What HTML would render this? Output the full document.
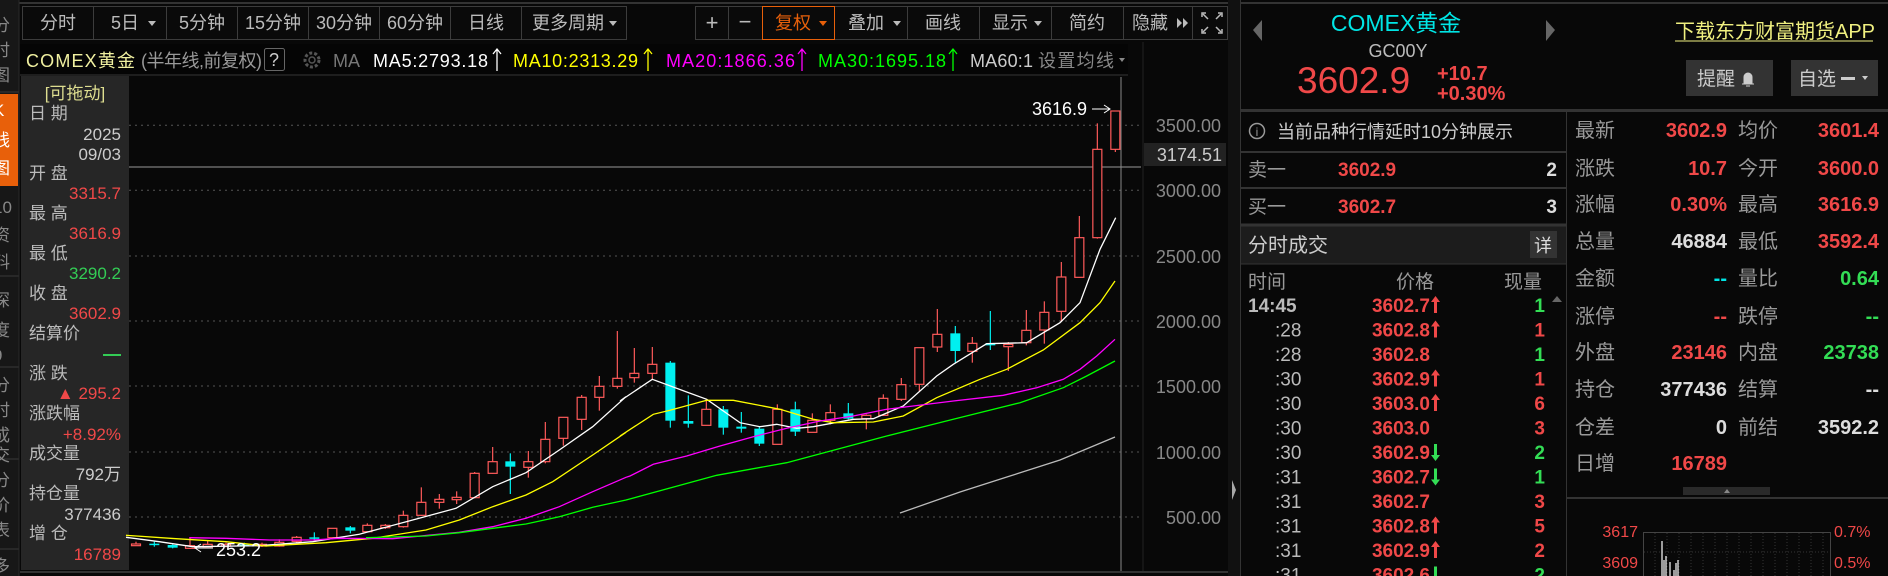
<!DOCTYPE html>
<html><head><meta charset="utf-8">
<style>
html,body{margin:0;padding:0;background:#080808;width:1888px;height:576px;overflow:hidden}
svg{display:block}
text{font-family:"Liberation Sans","Noto Sans CJK SC",sans-serif}
</style></head>
<body>
<svg id="s" width="1888" height="576" viewBox="0 0 1888 576" xmlns="http://www.w3.org/2000/svg">
<rect width="1888" height="576" fill="#080808"/>
<line x1="0" y1="3" x2="1888" y2="3" stroke="#333" stroke-width="2"/>
<rect x="0" y="0" width="19" height="576" fill="#171717"/>
<rect x="0" y="94" width="18" height="92" fill="#e8600a"/>
<g stroke="#3a3a3a"><line x1="0" y1="92" x2="19" y2="92"/><line x1="0" y1="276" x2="19" y2="276"/><line x1="0" y1="367" x2="19" y2="367"/><line x1="0" y1="459" x2="19" y2="459"/><line x1="0" y1="549" x2="19" y2="549"/></g>
<line x1="19" y1="0" x2="19" y2="576" stroke="#2a2a2a"/>
<g font-size="17" fill="#888">
<text x="-7" y="31">分</text><text x="-7" y="56">时</text><text x="-7" y="81">图</text>
<text x="-7" y="116" fill="#fff">K</text><text x="-7" y="146" fill="#fff">线</text><text x="-7" y="174" fill="#fff">图</text>
<text x="-7" y="213">10</text><text x="-7" y="241">资</text><text x="-7" y="268">料</text>
<text x="-7" y="306">深</text><text x="-7" y="336">度</text><text x="-7" y="361">9</text>
<text x="-7" y="391">分</text><text x="-7" y="416">时</text><text x="-7" y="441">成</text><text x="-7" y="461">交</text>
<text x="-7" y="486">分</text><text x="-7" y="511">价</text><text x="-7" y="536">表</text>
<text x="-7" y="572">多</text>
</g>
<g stroke="#3c3c3c" fill="#0a0a0a">
<rect x="22.5" y="6.5" width="604" height="33"/>
<rect x="695.5" y="6.5" width="532" height="33"/>
</g>
<g stroke="#3c3c3c">
<line x1="93.5" y1="6" x2="93.5" y2="40"/><line x1="166.5" y1="6" x2="166.5" y2="40"/><line x1="237.5" y1="6" x2="237.5" y2="40"/><line x1="308.5" y1="6" x2="308.5" y2="40"/><line x1="379.5" y1="6" x2="379.5" y2="40"/><line x1="450.5" y1="6" x2="450.5" y2="40"/><line x1="521.5" y1="6" x2="521.5" y2="40"/>
<line x1="728.5" y1="6" x2="728.5" y2="40"/><line x1="907.5" y1="6" x2="907.5" y2="40"/><line x1="979.5" y1="6" x2="979.5" y2="40"/><line x1="1051.5" y1="6" x2="1051.5" y2="40"/><line x1="1123.5" y1="6" x2="1123.5" y2="40"/><line x1="1192.5" y1="6" x2="1192.5" y2="40"/>
</g>
<rect x="762.5" y="6.5" width="72" height="33" fill="#0a0a0a" stroke="#e8600a"/>
<g font-size="18" fill="#bbb" text-anchor="middle">
<text x="58" y="29">分时</text><text x="125" y="29">5日</text><text x="202" y="29">5分钟</text><text x="273" y="29">15分钟</text><text x="344" y="29">30分钟</text><text x="415" y="29">60分钟</text><text x="486" y="29">日线</text><text x="568" y="29">更多周期</text>
<text x="712" y="30" font-size="22">+</text><text x="745" y="29" font-size="22">−</text>
<text x="793" y="29" fill="#e8600a">复权</text><text x="866" y="29">叠加</text><text x="943" y="29">画线</text><text x="1010" y="29">显示</text><text x="1087" y="29">简约</text><text x="1150" y="29">隐藏</text>
</g>
<g fill="#bbb"><path d="M148 21l8 0-4 5z"/><path d="M609 21l8 0-4 5z"/><path d="M819 21l8 0-4 5z" fill="#e8600a"/><path d="M893 21l8 0-4 5z"/><path d="M1034 21l8 0-4 5z"/><path d="M1177 18l5 5-5 5z"/><path d="M1183 18l5 5-5 5z"/></g>
<g stroke="#bbb" fill="none" stroke-width="1.5"><path d="M1202 17v-4h4M1218 13h4v4M1202 29v4h4M1218 33h4v-4"/><path d="M1203 14l5 5M1221 14l-5 5M1203 32l5-5M1221 32l-5-5"/></g>
<rect x="20" y="44" width="1108" height="30" fill="#050505"/>
<line x1="20" y1="75" x2="1128" y2="75" stroke="#333"/>
<g font-size="18">
<text x="26" y="67" fill="#f0f0a0" textLength="109">COMEX黄金</text>
<text x="141" y="67" fill="#999" textLength="121">(半年线,前复权)</text>
<rect x="264.5" y="48.5" width="20" height="22" fill="none" stroke="#666" rx="2"/>
<text x="274" y="66" fill="#ccc" text-anchor="middle">?</text>
<circle cx="312" cy="60" r="7" fill="none" stroke="#555" stroke-width="3" stroke-dasharray="3 2"/>
<circle cx="312" cy="60" r="3" fill="none" stroke="#555" stroke-width="1.5"/>
<text x="333" y="67" fill="#777">MA</text>
<text x="373" y="67" fill="#fff" textLength="115">MA5:2793.18</text>
<text x="513" y="67" fill="#ffff00" textLength="125">MA10:2313.29</text>
<text x="666" y="67" fill="#ff00ff" textLength="129">MA20:1866.36</text>
<text x="818" y="67" fill="#00ff00" textLength="128">MA30:1695.18</text>
<text x="970" y="67" fill="#ccc" textLength="63">MA60:1</text>
<text x="1038" y="67" fill="#888" textLength="76">设置均线</text>
</g>
<g stroke-width="1.3" fill="none">
<path d="M497 49v22M493 54l4-5 4 5" stroke="#fff"/>
<path d="M648 49v22M644 54l4-5 4 5" stroke="#ffff00"/>
<path d="M802 49v22M798 54l4-5 4 5" stroke="#ff00ff"/>
<path d="M953 49v22M949 54l4-5 4 5" stroke="#00ff00"/>
</g>
<path d="M1119 58l6 0-3 4z" fill="#888"/>
<rect x="21" y="76" width="108" height="494" fill="#262626"/>
<g font-size="17" fill="#bbb">
<text x="75" y="99" fill="#dede90" text-anchor="middle">[可拖动]</text>
<text x="29" y="119">日 期</text>
<text x="29" y="179">开 盘</text>
<text x="29" y="219">最 高</text>
<text x="29" y="259">最 低</text>
<text x="29" y="299">收 盘</text>
<text x="29" y="339">结算价</text>
<text x="29" y="379">涨 跌</text>
<text x="29" y="419">涨跌幅</text>
<text x="29" y="459">成交量</text>
<text x="29" y="499">持仓量</text>
<text x="29" y="539">增 仓</text>
</g>
<g font-size="17" text-anchor="end">
<text x="121" y="140" fill="#ccc">2025</text>
<text x="121" y="160" fill="#ccc">09/03</text>
<text x="121" y="199" fill="#f04848">3315.7</text>
<text x="121" y="239" fill="#f04848">3616.9</text>
<text x="121" y="279" fill="#33cc55">3290.2</text>
<text x="121" y="319" fill="#f04848">3602.9</text>
<text x="121" y="399" fill="#f04848">▲ 295.2</text>
<text x="121" y="440" fill="#f04848">+8.92%</text>
<text x="121" y="480" fill="#ccc">792万</text>
<text x="121" y="520" fill="#ccc">377436</text>
<text x="121" y="560" fill="#f04848">16789</text>
</g>
<rect x="103" y="354" width="18" height="2" fill="#33cc55"/>
<g id="grid" stroke="#555" stroke-dasharray="2 4"></g>
<line x1="129" y1="167" x2="1141" y2="167" stroke="#999"/>
<line x1="1121" y1="77" x2="1121" y2="572" stroke="#888"/>
<line x1="1143" y1="42" x2="1143" y2="572" stroke="#222"/>
<g id="candles"></g>
<g id="mas" fill="none" stroke-width="1.3"></g>
<g font-size="18" fill="#888" text-anchor="end">
<text x="1221" y="132">3500.00</text><text x="1221" y="197">3000.00</text><text x="1221" y="263">2500.00</text><text x="1221" y="328">2000.00</text><text x="1221" y="393">1500.00</text><text x="1221" y="459">1000.00</text><text x="1221" y="524">500.00</text>
</g>
<rect x="1144" y="143" width="82" height="23" fill="#222"/>
<text x="1222" y="161" font-size="18" fill="#ccc" text-anchor="end">3174.51</text>
<text x="1087" y="115" font-size="18" fill="#fff" text-anchor="end">3616.9</text>
<path d="M1092 109h18M1104 105l6 4-6 4" stroke="#fff" fill="none"/>
<text x="216" y="556" font-size="18" fill="#fff">253.2</text>
<path d="M195 548h18M201 544l-6 4 6 4" stroke="#fff" fill="none"/>
<line x1="20" y1="572" x2="1228" y2="572" stroke="#333" stroke-width="2"/>
<rect x="1228" y="0" width="12" height="576" fill="#111"/>
<line x1="1240.5" y1="0" x2="1240.5" y2="576" stroke="#333"/>
<path d="M1232 480l4 10-4 10z" fill="#aaa"/>
<text x="1396" y="31" font-size="23" fill="#00e5e5" text-anchor="middle">COMEX黄金</text>
<path d="M1262 20l-9 10 9 11z" fill="#666"/><path d="M1546 20l9 10-9 11z" fill="#666"/>
<text x="1398" y="57" font-size="18" fill="#bbb" text-anchor="middle">GC00Y</text>
<text x="1297" y="93" font-size="37" fill="#f04848">3602.9</text>
<text x="1437" y="80" font-size="20" font-weight="bold" fill="#f04848">+10.7</text>
<text x="1437" y="100" font-size="20" font-weight="bold" fill="#f04848">+0.30%</text>
<text x="1675" y="38" font-size="20" fill="#f0f080">下载东方财富期货APP</text>
<line x1="1675" y1="41" x2="1873" y2="41" stroke="#f0f080"/>
<rect x="1686" y="60" width="87" height="36" fill="#333"/>
<text x="1697" y="85" font-size="19" fill="#ccc">提醒</text>
<path d="M1742 84h12M1744 84v-7a4 4 0 0 1 8 0v7M1746 86h4" stroke="#ccc" fill="#ccc"/>
<rect x="1791" y="60" width="87" height="36" fill="#333"/>
<text x="1798" y="85" font-size="19" fill="#ccc">自选</text>
<rect x="1841" y="77" width="14" height="3" fill="#ccc"/><path d="M1862 76l6 0-3 4z" fill="#ccc"/>
<rect x="1241" y="109" width="647" height="3" fill="#333"/>
<circle cx="1257" cy="131" r="7.5" fill="none" stroke="#999" stroke-width="1.5"/>
<text x="1257" y="136" font-size="12" fill="#999" text-anchor="middle">i</text>
<text x="1277" y="138" font-size="18" fill="#ccc">当前品种行情延时10分钟展示</text>
<line x1="1241" y1="152" x2="1566" y2="152" stroke="#333" stroke-width="2"/>
<text x="1248" y="176" font-size="19" fill="#999">卖一</text>
<text x="1338" y="176" font-size="19" font-weight="bold" fill="#f04848">3602.9</text>
<text x="1557" y="176" font-size="19" font-weight="bold" fill="#ddd" text-anchor="end">2</text>
<line x1="1241" y1="188" x2="1566" y2="188" stroke="#333" stroke-width="2"/>
<text x="1248" y="213" font-size="19" fill="#999">买一</text>
<text x="1338" y="213" font-size="19" font-weight="bold" fill="#f04848">3602.7</text>
<text x="1557" y="213" font-size="19" font-weight="bold" fill="#ddd" text-anchor="end">3</text>
<rect x="1241" y="225" width="325" height="39" fill="#1c1c1c"/>
<line x1="1241" y1="225" x2="1566" y2="225" stroke="#333" stroke-width="3"/>
<text x="1248" y="252" font-size="20" fill="#ccc">分时成交</text>
<rect x="1530" y="231" width="27" height="27" fill="#333"/>
<text x="1543" y="252" font-size="18" fill="#ddd" text-anchor="middle">详</text>
<line x1="1241" y1="264" x2="1566" y2="264" stroke="#333"/>
<g font-size="19" fill="#999"><text x="1248" y="288">时间</text><text x="1396" y="288">价格</text><text x="1504" y="288">现量</text></g>
<path d="M1552 302l5-6 5 6z" fill="#666"/>
<g id="trades" font-size="19" font-weight="bold"></g>
<line x1="1566.5" y1="112" x2="1566.5" y2="576" stroke="#333"/>
<g id="stats" font-size="20"></g>
<rect x="1683" y="487" width="87" height="8" fill="#2a2a2a"/>
<path d="M1724 493l3-4 3 4z" fill="#888"/>
<line x1="1567" y1="498" x2="1888" y2="498" stroke="#333" stroke-width="2"/>
<g font-size="16" fill="#f04848"><text x="1638" y="537" text-anchor="end">3617</text><text x="1638" y="568" text-anchor="end">3609</text><text x="1834" y="537">0.7%</text><text x="1834" y="568">0.5%</text></g>
<rect x="1643.5" y="532.5" width="187" height="50" fill="none" stroke="#444"/>
<g id="mini" stroke="#333" stroke-dasharray="1 2"></g>
<path d="M1662 541v35M1664 560v16M1666 556v20M1670 562v14M1674 570v6M1676 563v13M1678 560v16" stroke="#fff" stroke-width="1.2"/>
</svg>
<script>
var NS="http://www.w3.org/2000/svg";
function el(p,t,a,txt){var e=document.createElementNS(NS,t);for(var k in a)e.setAttribute(k,a[k]);if(txt!=null)e.textContent=txt;p.appendChild(e);return e;}
var g=document.getElementById('grid');
[125.3,190.3,256,321,386,452,517].forEach(function(y){el(g,'line',{x1:129,y1:y,x2:1143,y2:y});});
var mini=document.getElementById('mini');
for(var x=1655;x<1830;x+=12)el(mini,'line',{x1:x,y1:533,x2:x,y2:576});
el(mini,'line',{x1:1644,y1:552,x2:1830,y2:552});
var R='#ff5a5a',C='#00f0f0';
var z3=[[30,732,737,725,737,R],[85,731,733,725,740,C],[140,735,743,733,745,C],[192,737,745,712,747,R],[245,733,740,720,740,R],
[300,733,738,728,742,R],[355,734,737,728,740,C],[408,733,738,728,741,R],
[460,727,738,718,740,R],[512,712,724,708,728,R],[565,712,714,697,722,C],[619,685,713,685,713,R],[673,682,692,678,700,C],[724,676,695,670,697,R],[778,676,683,672,687,R],[832,646,680,632,683,R],[886,607,646,562,648,R],[940,598,607,582,626,R],[992,592,599,574,612,R],[1046,520,593,516,595,R],[1100,485,520,441,521,R],[1153,484,500,460,582,C],[1207,485,502,453,533,R],[1258,418,485,366,490,R],[1312,352,415,352,437,R],[1367,292,358,285,390,R],[1420,259,292,228,332,R],[1474,235,259,93,266,R]];
var z4=[[43,892,905,816,920,R],[97,865,892,813,910,R],[151,860,1034,855,1055,C],[205,1035,1043,958,1055,C],[259,1000,1048,970,1048,R],[310,1000,1055,990,1076,C],[364,1052,1058,1008,1070,C],[418,1058,1103,1050,1110,C],[472,1000,1105,985,1105,R],[526,1000,1067,977,1080,C],[577,1033,1069,1012,1069,R],[631,1010,1033,985,1045,R],[685,1012,1028,981,1030,C],[739,1018,1028,1015,1060,R],[790,967,1018,955,1020,R],[844,926,970,906,975,R],[898,815,925,815,945,R],[952,775,813,699,828,R],[1006,772,825,750,860,C],[1057,802,826,783,860,R],[1111,802,808,705,822,C],[1165,805,812,798,885,R],[1219,763,800,702,808,R],[1273,709,762,676,803,R],[1324,603,706,558,738,R],[1378,485,604,420,604,R],[1432,220,485,142,488,R],[1486,105,220,105,228,R]];
var cg=document.getElementById('candles');
function cand(x,bt,bb,wt,wb,c){
 el(cg,'line',{x1:x,y1:wt,x2:x,y2:wb,stroke:c,'stroke-width':1.2});
 var h=Math.max(bb-bt,1.5);
 if(c===R) el(cg,'rect',{x:x-4.5,y:bt,width:9,height:h,fill:'#080808',stroke:c,'stroke-width':1.2});
 else el(cg,'rect',{x:x-5,y:bt,width:10,height:h,fill:c});
}
z3.forEach(function(d){cand(126+d[0]/3,300+d[1]/3,300+d[2]/3,300+d[3]/3,300+d[4]/3,d[5]);});
z4.forEach(function(d){cand(620+d[0]/3,76+d[1]/3,76+d[2]/3,76+d[3]/3,76+d[4]/3,d[5]);});
var mg=document.getElementById('mas');
function line(p3,p4,col){var pts=[];p3.forEach(function(p){pts.push((126+p[0]/3).toFixed(1)+','+(300+p[1]/3).toFixed(1));});p4.forEach(function(p){pts.push((620+p[0]/3).toFixed(1)+','+(76+p[1]/3).toFixed(1));});el(mg,'polyline',{points:pts.join(' '),stroke:col});}
line([[0,712],[100,725],[200,740],[400,737],[560,725],[700,703],[860,660],[990,625],[1100,560],[1200,518],[1300,450],[1400,380],[1500,290]],
 [[0,975],[97,910],[200,948],[260,970],[360,1040],[420,1052],[470,1045],[530,1057],[580,1052],[700,1030],[760,1028],[850,990],[950,900],[1000,865],[1100,803],[1220,800],[1320,740],[1380,680],[1440,520],[1487,425]],'#fff');
line([[0,706],[150,716],[300,725],[420,738],[600,728],[740,715],[900,690],[1000,660],[1100,620],[1200,585],[1280,545],[1400,465],[1500,397]],
 [[0,1080],[100,1015],[150,1003],[260,973],[340,973],[480,1000],[580,1030],[640,1040],[760,1038],[850,1020],[950,965],[1080,910],[1160,880],[1270,822],[1380,740],[1440,680],[1485,615]],'#ffff00');
line([[190,713],[300,715],[430,720],[560,720],[640,715],[800,716],[1000,697],[1100,680],[1200,655],[1300,620],[1400,575],[1500,532]],
 [[30,1200],[100,1165],[200,1140],[300,1110],[400,1082],[500,1057],[600,1035],[700,1020],[800,1000],[1000,975],[1150,958],[1250,935],[1330,910],[1380,880],[1430,840],[1485,790]],'#ff00ff');
line([[720,713],[900,708],[1000,698],[1100,685],[1200,672],[1300,650],[1400,622],[1500,600]],
 [[290,1198],[500,1160],[800,1080],[1000,1030],[1200,980],[1330,935],[1400,900],[1485,855]],'#00ff00');
el(mg,'polyline',{points:'900,513 960,492 1010,476 1060,460 1115,437',stroke:'#bbb'});
var tg=document.getElementById('trades');
var RR='#f04848',GG='#33dd55';
var tr=[['14:45','3602.7','u','1',GG],[':28','3602.8','u','1',RR],[':28','3602.8','','1',GG],[':30','3602.9','u','1',RR],[':30','3603.0','u','6',RR],[':30','3603.0','','3',RR],[':30','3602.9','d','2',GG],[':31','3602.7','d','1',GG],[':31','3602.7','','3',RR],[':31','3602.8','u','5',RR],[':31','3602.9','u','2',RR],[':31','3602.6','d','2',GG]];
tr.forEach(function(t,i){var y=312+i*24.5;
 el(tg,'text',{x:t[0].length>3?1248:1275,y:y,fill:'#bbb','font-weight':t[0].length>3?'bold':'normal'},t[0]);
 el(tg,'text',{x:1372,y:y,fill:RR,textLength:58},t[1]);
 if(t[2]=='u'){el(tg,'rect',{x:1434,y:y-12,width:3,height:13,fill:RR});el(tg,'path',{d:'M1431 '+(y-10)+'l4.5-6 4.5 6z',fill:RR});}
 if(t[2]=='d'){el(tg,'rect',{x:1434,y:y-15,width:3,height:13,fill:GG});el(tg,'path',{d:'M1431 '+(y-4)+'l4.5 6 4.5-6z',fill:GG});}
 el(tg,'text',{x:1545,y:y,fill:t[4],'text-anchor':'end'},t[3]);
});
var sg=document.getElementById('stats');
var W='#ddd',Cy='#00e5e5';
var st=[[130,'最新','3602.9',RR,'均价','3601.4',RR],[168,'涨跌','10.7',RR,'今开','3600.0',RR],[204,'涨幅','0.30%',RR,'最高','3616.9',RR],[241,'总量','46884',W,'最低','3592.4',RR],[278,'金额','--',Cy,'量比','0.64',GG],[316,'涨停','--',RR,'跌停','--',GG],[352,'外盘','23146',RR,'内盘','23738',GG],[389,'持仓','377436',W,'结算','--',W],[427,'仓差','0',W,'前结','3592.2',W],[463,'日增','16789',RR,'','','']];
st.forEach(function(s){var y=s[0]+7;
 el(sg,'text',{x:1575,y:y,fill:'#999'},s[1]);
 el(sg,'text',{x:1727,y:y,fill:s[3],'text-anchor':'end','font-weight':'bold'},s[2]);
 if(s[4]){el(sg,'text',{x:1738,y:y,fill:'#999'},s[4]);
 el(sg,'text',{x:1879,y:y,fill:s[6],'text-anchor':'end','font-weight':'bold'},s[5]);}
});
</script>
</body></html>
